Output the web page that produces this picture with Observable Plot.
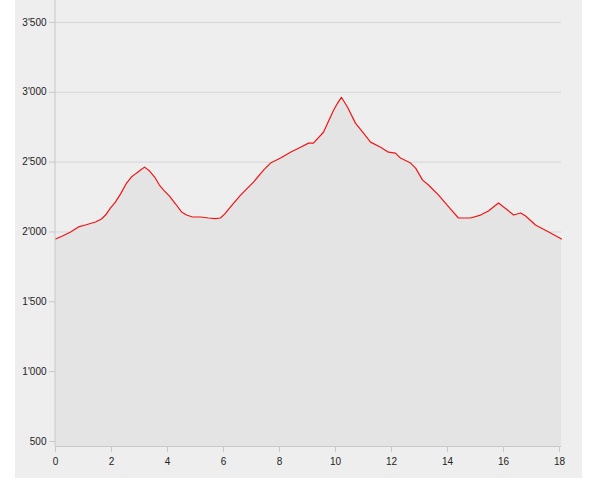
<!DOCTYPE html>
<html>
<head>
<meta charset="utf-8">
<script src="https://cdn.jsdelivr.net/npm/d3@7"></script>
<script src="https://cdn.jsdelivr.net/npm/@observablehq/plot@0.6"></script>
<style>
  html, body { margin: 0; padding: 0; background: #ffffff; }
  #panel { position: absolute; left: 15px; top: 0px; width: 567px; height: 478px; background: #eeeeee; }
</style>
</head>
<body>
<div id="panel"></div>
<script>
const distance = [0, 0.25, 0.54, 0.82, 1.07, 1.43, 1.64, 1.79, 1.96, 2.14, 2.32, 2.54, 2.71, 2.89, 3.04, 3.18,
  3.36, 3.54, 3.71, 3.86, 4.07, 4.29, 4.5, 4.68, 4.89, 5.18, 5.46, 5.71, 5.89, 6.04, 6.25, 6.61, 7.07, 7.43,
  7.68, 8.04, 8.39, 8.75, 9.04, 9.21, 9.57, 9.93, 10.07, 10.21, 10.43, 10.71, 11.0, 11.25, 11.61, 11.89,
  12.14, 12.32, 12.68, 12.86, 13.11, 13.32, 13.68, 14.11, 14.39, 14.82, 15.18, 15.46, 15.82, 16.14, 16.36,
  16.61, 16.79, 17.14, 17.68, 18.07];
const elevation = [1950, 1971, 2000, 2036, 2050, 2071, 2093, 2121, 2171, 2214, 2271, 2350, 2393, 2421, 2443, 2464,
  2436, 2393, 2336, 2300, 2257, 2200, 2143, 2121, 2107, 2107, 2100, 2096, 2100, 2128, 2179, 2264, 2357, 2443,
  2493, 2529, 2571, 2607, 2636, 2636, 2714, 2871, 2921, 2964, 2893, 2779, 2707, 2643, 2607, 2571,
  2564, 2529, 2493, 2457, 2371, 2336, 2264, 2164, 2100, 2100, 2121, 2150, 2207, 2157, 2121,
  2136, 2114, 2050, 1993, 1950];
const yTicks = [500, 1000, 1500, 2000, 2500, 3000, 3500];
const xTicks = [0, 2, 4, 6, 8, 10, 12, 14, 16, 18];

const data = distance.map((d, i) => ({d, e: elevation[i]}));
const yMin = 464, yMax = 3657, xMax = 18.07;
const fmt = d3.formatLocale({decimal: ".", thousands: "'", grouping: [3], currency: ["", ""]}).format(",");

const chart = Plot.plot({
  width: 567,
  height: 478,
  marginLeft: 40,
  marginRight: 21,
  marginTop: 0,
  marginBottom: 32,
  style: {background: "transparent", fontFamily: "'Liberation Sans', Arial, sans-serif", fontSize: "10px", color: "#222"},
  x: {domain: [0, xMax]},
  y: {domain: [yMin, yMax]},
  marks: [
    Plot.gridY(yTicks, {stroke: "#d6d6d6", strokeOpacity: 1}),
    Plot.areaY(data, {x: "d", y1: () => yMin, y2: "e", fill: "#e4e4e4"}),
    Plot.line(data, {x: "d", y: "e", stroke: "#f51414", strokeWidth: 1.2}),
    Plot.ruleX([0], {stroke: "#c8c8c8", dx: -0.5}),
    Plot.ruleY([yMin], {stroke: "#c8c8c8"}),
    Plot.axisY(yTicks, {tickFormat: fmt, tickSize: 6, tickPadding: 3, stroke: "#c8c8c8", fill: "#222", label: null}),
    Plot.axisX(xTicks, {tickSize: 6, tickPadding: 5, stroke: "#c8c8c8", fill: "#222", label: null})
  ]
});
document.getElementById("panel").appendChild(chart);
</script>
</body>
</html>
